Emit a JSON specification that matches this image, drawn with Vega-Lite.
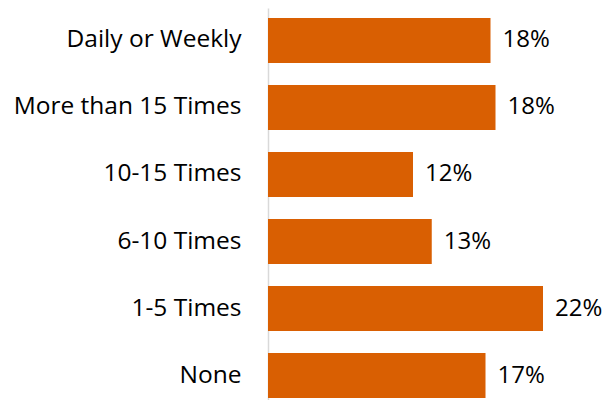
{
  "$schema": "https://vega.github.io/schema/vega-lite/v6.json",
  "autosize": "none",
  "padding": {"left": 268, "top": 8, "right": 45, "bottom": 0},
  "width": 300,
  "height": 400,
  "background": "white",
  "config": {"view": {"stroke": null}, "font": "Open Sans"},
  "data": {"values": [
    {"category": "Daily or Weekly", "value": 17.8, "label": "18%"},
    {"category": "More than 15 Times", "value": 18.2, "label": "18%"},
    {"category": "10-15 Times", "value": 11.6, "label": "12%"},
    {"category": "6-10 Times", "value": 13.1, "label": "13%"},
    {"category": "1-5 Times", "value": 22.0, "label": "22%"},
    {"category": "None", "value": 17.4, "label": "17%"}
  ]},
  "encoding": {
    "y": {
      "field": "category", "type": "nominal", "sort": null,
      "scale": {"paddingInner": 0.328, "paddingOuter": 0.149},
      "axis": {"title": null, "ticks": false, "labelPadding": 27, "labelLimit": 0, "labelFontSize": 24.5, "labelColor": "#000000", "labelFont": "Open Sans", "domainColor": "#d9d9d9", "domainWidth": 1.5, "grid": false}
    },
    "x": {"field": "value", "type": "quantitative", "scale": {"domain": [0, 24]}, "axis": null}
  },
  "layer": [
    {"mark": {"type": "bar", "color": "#D95F02"}},
    {"mark": {"type": "text", "align": "left", "baseline": "middle", "dx": 12, "fontSize": 24, "color": "#000000", "font": "Open Sans"},
     "encoding": {"text": {"field": "label"}}}
  ]
}
